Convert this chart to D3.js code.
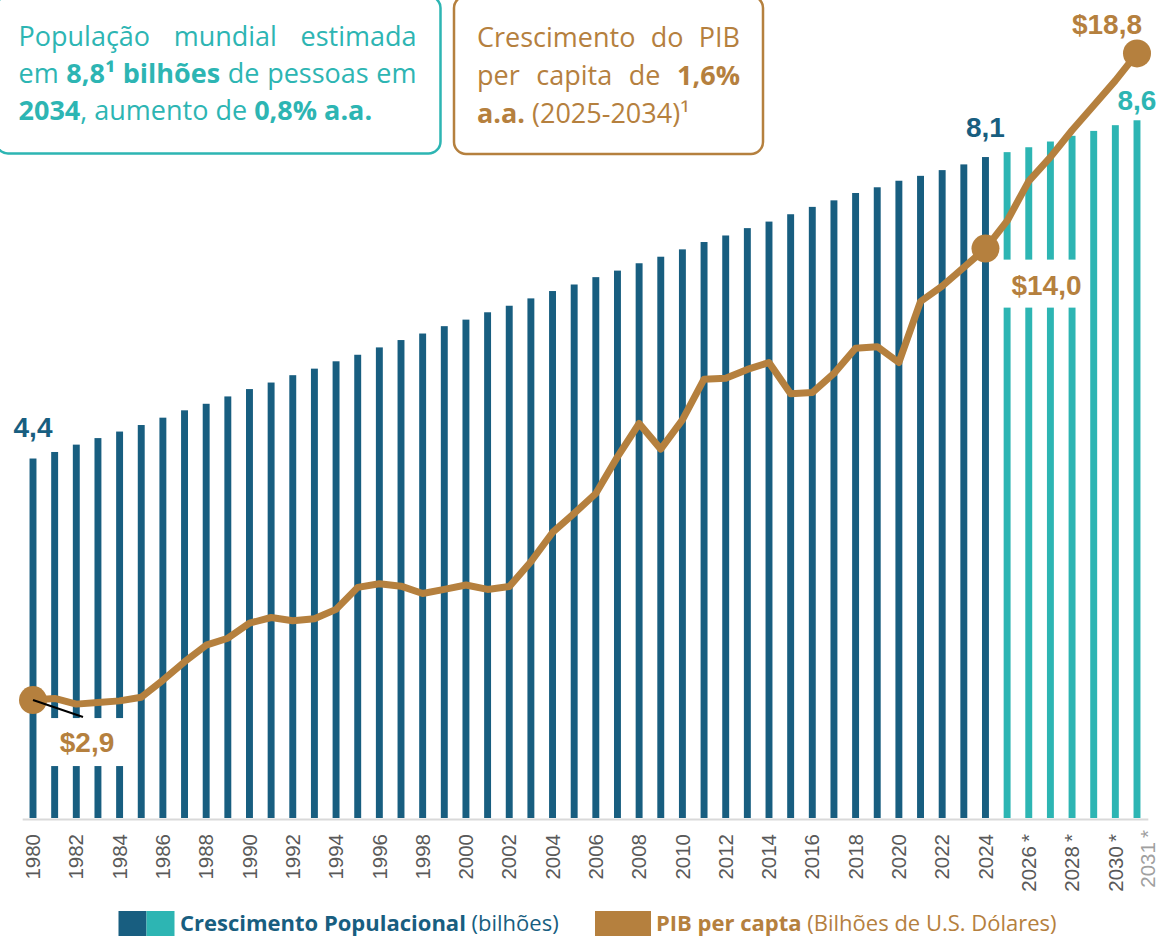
<!DOCTYPE html>
<html>
<head>
<meta charset="utf-8">
<script src="https://cdn.jsdelivr.net/npm/d3@7"></script>
<style>
  html, body { margin: 0; padding: 0; background: #fff; }
  svg { display: block; }
</style>
</head>
<body>
<script>
// data
const years = [1980, 1981, 1982, 1983, 1984, 1985, 1986, 1987, 1988, 1989,
  1990, 1991, 1992, 1993, 1994, 1995, 1996, 1997, 1998, 1999,
  2000, 2001, 2002, 2003, 2004, 2005, 2006, 2007, 2008, 2009,
  2010, 2011, 2012, 2013, 2014, 2015, 2016, 2017, 2018, 2019,
  2020, 2021, 2022, 2023, 2024, 2025, 2026, 2027, 2028, 2029,
  2030, 2031];
const population = [4.40, 4.48, 4.57, 4.65, 4.73, 4.81, 4.90, 4.99, 5.07, 5.16,
  5.25, 5.33, 5.42, 5.50, 5.59, 5.67, 5.76, 5.85, 5.93, 6.02,
  6.10, 6.19, 6.27, 6.36, 6.45, 6.53, 6.62, 6.70, 6.79, 6.87,
  6.96, 7.05, 7.13, 7.22, 7.30, 7.39, 7.48, 7.56, 7.65, 7.72,
  7.80, 7.86, 7.93, 8.00, 8.09, 8.15, 8.21, 8.28, 8.35, 8.41,
  8.48, 8.54];
const gdpPerCapita = [2.90, 2.94, 2.80, 2.84, 2.88, 2.97, 3.39, 3.84, 4.25, 4.42,
  4.79, 4.93, 4.85, 4.90, 5.13, 5.67, 5.76, 5.70, 5.52, 5.62,
  5.73, 5.62, 5.69, 6.30, 7.02, 7.49, 7.98, 8.88, 9.70, 9.07,
  9.79, 10.79, 10.81, 11.03, 11.20, 10.43, 10.46, 10.93, 11.55, 11.59,
  11.20, 12.70, 13.08, 13.54, 14.00, 14.68, 15.66, 16.25, 16.91, 17.52,
  18.13, 18.80];
const firstForecastYear = 2025;
const tickYears = [1980, 1982, 1984, 1986, 1988, 1990, 1992, 1994, 1996, 1998,
  2000, 2002, 2004, 2006, 2008, 2010, 2012, 2014, 2016, 2018, 2020, 2022, 2024,
  2026, 2028, 2030, 2031];
const popLabels = [{year: 1980, text: "4,4"}, {year: 2024, text: "8,1"}, {year: 2031, text: "8,6"}];
const gdpLabels = [{year: 1980, text: "$2,9"}, {year: 2024, text: "$14,0"}, {year: 2031, text: "$18,8"}];
const markedYears = [1980, 2024, 2031];

const rows = years.map((y, i) => ({year: y, pop: population[i], gdp: gdpPerCapita[i]}));

const W = 1158, H = 936;
const base = 818;
const DARK = "#185e80", TEAL = "#2db5b3", GOLD = "#b5803e";
const boxFont = "'Open Sans', sans-serif";
const numFont = "'Liberation Sans', Arial, sans-serif";

const svg = d3.select("body").append("svg")
  .attr("width", W)
  .attr("height", H);

// scales
const x = d3.scaleBand()
  .domain(years)
  .range([22.18, 1147.82])
  .paddingInner(0.68)
  .paddingOuter(0.34);
const cx = d => x(d) + x.bandwidth() / 2;

const yPop = d3.scaleLinear().domain([0, 10]).range([base, base - 817]);
const yGdp = d3.scaleLinear().domain([0, 20]).range([base, base - 813.4]);

// bars
svg.append("g").selectAll("rect")
  .data(rows)
  .enter()
  .append("rect")
  .attr("x", d => x(d.year))
  .attr("y", d => yPop(d.pop))
  .attr("width", x.bandwidth())
  .attr("height", d => base - yPop(d.pop))
  .attr("fill", d => d.year >= firstForecastYear ? TEAL : DARK);

// x axis
const axis = svg.append("g")
  .attr("transform", "translate(0," + (base + 1) + ")")
  .call(d3.axisBottom(x)
    .tickValues(tickYears)
    .tickSize(0)
    .tickSizeOuter(0)
    .tickFormat(d => d >= firstForecastYear ? d + "\u2009*" : d));
axis.select(".domain").attr("stroke", "#d9d9d9").attr("stroke-width", 2);
axis.selectAll("text")
  .attr("transform", "rotate(-90)")
  .attr("text-anchor", "end")
  .attr("x", -15)
  .attr("y", 0)
  .attr("dy", "0.35em")
  .style("font-family", numFont)
  .style("font-size", "20.5px")
  .attr("fill", "#595959");
axis.selectAll(".tick")
  .filter(d => d === 2031)
  .select("text")
  .attr("x", -11)
  .attr("y", 11)
  .attr("fill", "#a0a0a0");

// white backgrounds behind the two lower value labels
const line = d3.line()
  .x(d => cx(d.year))
  .y(d => yGdp(d.gdp));

const gdpRow = y => rows.find(r => r.year === y);

const r1980 = gdpRow(1980), r2024 = gdpRow(2024);
svg.append("rect")
  .attr("x", cx(1980) + 8).attr("y", yGdp(r1980.gdp) + 18)
  .attr("width", 88).attr("height", 48)
  .attr("fill", "#fff");
svg.append("rect")
  .attr("x", cx(2024) + 11).attr("y", yGdp(r2024.gdp) + 11)
  .attr("width", 92).attr("height", 48)
  .attr("fill", "#fff");

// gdp line
svg.append("path")
  .datum(rows)
  .attr("d", line)
  .attr("fill", "none")
  .attr("stroke", GOLD)
  .attr("stroke-width", 7)
  .attr("stroke-linejoin", "round");

svg.append("g").selectAll("circle")
  .data(rows.filter(r => markedYears.includes(r.year)))
  .enter()
  .append("circle")
  .attr("cx", d => cx(d.year))
  .attr("cy", d => yGdp(d.gdp))
  .attr("r", 14)
  .attr("fill", GOLD);

// leader for $2,9
svg.append("line")
  .attr("x1", cx(1980)).attr("y1", yGdp(r1980.gdp))
  .attr("x2", cx(1980) + 50).attr("y2", yGdp(r1980.gdp) + 17)
  .attr("stroke", "#000")
  .attr("stroke-width", 2);

// value labels
const popOffsets = {1980: [0, -22], 2024: [0, -20.5], 2031: [0, -10]};
svg.append("g").selectAll("text")
  .data(popLabels)
  .enter()
  .append("text")
  .attr("x", d => cx(d.year) + popOffsets[d.year][0])
  .attr("y", d => yPop(rows.find(r => r.year === d.year).pop) + popOffsets[d.year][1])
  .attr("text-anchor", "middle")
  .style("font-family", numFont)
  .style("font-weight", 700)
  .style("font-size", "28px")
  .attr("fill", d => d.year >= firstForecastYear ? TEAL : DARK)
  .text(d => d.text);

const gdpOffsets = {1980: [54, 52], 2024: [61, 46], 2031: [-30, -19.5]};
svg.append("g").selectAll("text")
  .data(gdpLabels)
  .enter()
  .append("text")
  .attr("x", d => cx(d.year) + gdpOffsets[d.year][0])
  .attr("y", d => yGdp(gdpRow(d.year).gdp) + gdpOffsets[d.year][1])
  .attr("text-anchor", "middle")
  .style("font-family", numFont)
  .style("font-weight", 700)
  .style("font-size", "28px")
  .attr("fill", GOLD)
  .text(d => d.text);

// text boxes
const popNote = [
  [[["População", 0]], [["mundial", 0]], [["estimada", 0]]],
  [[["em", 0]], [["8,8¹", 1]], [["bilhões", 1]], [["de", 0]], [["pessoas", 0]], [["em", 0]]],
  [[["2034", 1], [",", 0]], [["aumento", 0]], [["de", 0]], [["0,8%", 1]], [["a.a.", 1]]]
];
const gdpNote = [
  [[["Crescimento", 0]], [["do", 0]], [["PIB", 0]]],
  [[["per", 0]], [["capita", 0]], [["de", 0]], [["1,6%", 1]]],
  [[["a.a.", 1]], [["(2025-2034)¹", 0]]]
];

function paragraph(lines, x0, x1, y0, lh, color, size, justified) {
  const g = svg.append("g")
    .style("font-family", boxFont)
    .style("font-size", size + "px")
    .attr("fill", color);
  lines.forEach((words, li) => {
    const y = y0 + li * lh;
    const nodes = words.map(runs => {
      const t = g.append("text").attr("y", y);
      runs.forEach(([s, b]) => t.append("tspan").text(s).style("font-weight", b ? 700 : 400));
      return t;
    });
    const widths = nodes.map(n => n.node().getComputedTextLength());
    const gap = li < justified ? (x1 - x0 - d3.sum(widths)) / (words.length - 1) : size * 0.26;
    let xx = x0;
    nodes.forEach((n, i) => { n.attr("x", xx); xx += widths[i] + gap; });
  });
}

svg.append("rect")
  .attr("x", -4).attr("y", -4)
  .attr("width", 444.5).attr("height", 157.5)
  .attr("rx", 12)
  .attr("fill", "#fff")
  .attr("stroke", TEAL)
  .attr("stroke-width", 2.5);
paragraph(popNote, 18.5, 416.5, 46, 37, TEAL, 27, 2);

svg.append("rect")
  .attr("x", 454).attr("y", -4)
  .attr("width", 309).attr("height", 158)
  .attr("rx", 12)
  .attr("fill", "#fff")
  .attr("stroke", GOLD)
  .attr("stroke-width", 2.5);
paragraph(gdpNote, 477, 740, 46.5, 38.3, GOLD, 27, 2);

// legend
const legend = svg.append("g");
legend.append("rect").attr("x", 118.5).attr("y", 911).attr("width", 28).attr("height", 25).attr("fill", DARK);
legend.append("rect").attr("x", 146.5).attr("y", 911).attr("width", 28).attr("height", 25).attr("fill", TEAL);
const lt1 = legend.append("text").attr("x", 180).attr("y", 931)
  .style("font-family", boxFont).style("font-size", "22px").attr("fill", DARK);
lt1.append("tspan").text("Crescimento Populacional").style("font-weight", 700);
lt1.append("tspan").text(" (bilhões)").style("font-weight", 400);

legend.append("rect").attr("x", 595).attr("y", 911).attr("width", 56).attr("height", 25).attr("fill", GOLD);
const lt2 = legend.append("text").attr("x", 656).attr("y", 931)
  .style("font-family", boxFont).style("font-size", "22px").attr("fill", GOLD);
lt2.append("tspan").text("PIB per capta").style("font-weight", 700);
lt2.append("tspan").text(" (Bilhões de U.S. Dólares)").style("font-weight", 400);
</script>
</body>
</html>
